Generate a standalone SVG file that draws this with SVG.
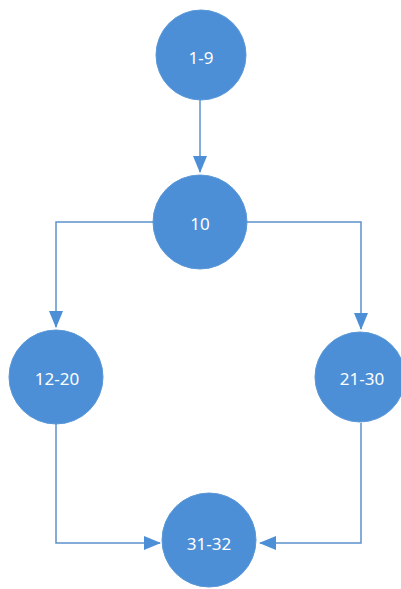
<svg xmlns="http://www.w3.org/2000/svg" width="401" height="589" viewBox="0 0 401 589">
  <style>
    .node circle { fill: #4C8FD6; stroke: #5A98D8; stroke-width: 1; }
    .node text { fill: #FFFFFF; font-family: "Noto Sans", "Open Sans", sans-serif; font-size: 17px; text-anchor: middle; dominant-baseline: central; }
    .edge { fill: none; stroke: #5B93CC; stroke-width: 1.5; marker-end: url(#arrow); }
  </style>
  <defs>
    <!-- filled triangular arrowhead, tip at the path end -->
    <marker id="arrow" viewBox="0 0 17 14" refX="16" refY="7" markerWidth="17" markerHeight="14" markerUnits="userSpaceOnUse" orient="auto">
      <path d="M0,0 L17,7 L0,14 Z" fill="#4C8FD6"/>
    </marker>
  </defs>
  <rect width="401" height="589" fill="#FFFFFF"/>

  <!-- connectors -->
  <g id="connectors">
    <path class="edge" d="M200,100 L200,172"/>
    <path class="edge" d="M154,222 L56,222 L56,327"/>
    <path class="edge" d="M247,222 L361,222 L361,329"/>
    <path class="edge" d="M56,424 L56,543 L160,543"/>
    <path class="edge" d="M361,423 L361,543 L260,543"/>
  </g>

  <g id="node-1-9" class="node">
    <circle cx="201" cy="55" r="45"/>
    <text x="201" y="57">1-9</text>
  </g>
  <g id="node-10" class="node">
    <circle cx="200" cy="222" r="47"/>
    <text x="200" y="223">10</text>
  </g>
  <g id="node-12-20" class="node">
    <circle cx="56" cy="377" r="47"/>
    <text x="57" y="378">12-20</text>
  </g>
  <g id="node-21-30" class="node">
    <circle cx="360" cy="377" r="45"/>
    <text x="362" y="378">21-30</text>
  </g>
  <g id="node-31-32" class="node">
    <circle cx="209" cy="540" r="47"/>
    <text x="209" y="543">31-32</text>
  </g>
</svg>
